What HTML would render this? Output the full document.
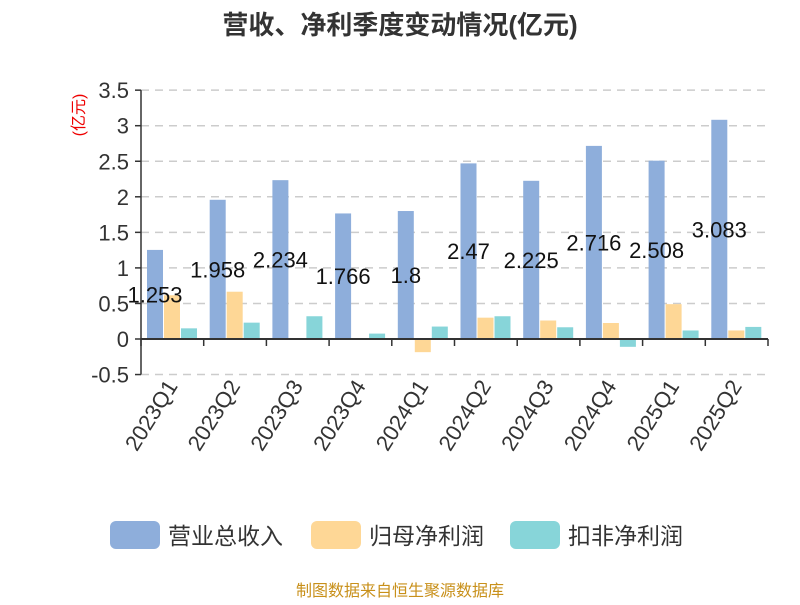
<!DOCTYPE html>
<html><head><meta charset="utf-8"><style>
body{margin:0;background:#fff;font-family:"Liberation Sans","Noto Sans CJK SC",sans-serif}
</style></head><body>
<svg id="c" width="800" height="600" xmlns="http://www.w3.org/2000/svg" font-family="Liberation Sans, Noto Sans CJK SC, sans-serif"></svg>
<script>
const categories=["2023Q1","2023Q2","2023Q3","2023Q4","2024Q1","2024Q2","2024Q3","2024Q4","2025Q1","2025Q2"];
const revenue=[1.253,1.958,2.234,1.766,1.8,2.47,2.225,2.716,2.508,3.083];
const netProfit=[0.615,0.665,0.005,0.003,-0.185,0.30,0.26,0.225,0.49,0.12];
const deductedProfit=[0.15,0.23,0.32,0.076,0.175,0.32,0.165,-0.11,0.12,0.17];
const yTicks=[-0.5,0,0.5,1,1.5,2,2.5,3,3.5];
const revenueLabels=["1.253","1.958","2.234","1.766","1.8","2.47","2.225","2.716","2.508","3.083"];
const svg=document.getElementById('c');const NS="http://www.w3.org/2000/svg";
function mk(t,a,p){const e=document.createElementNS(NS,t);for(const k in a)e.setAttribute(k,a[k]);(p||svg).appendChild(e);return e;}
const x0=141,x1=768,yZero=339,ppu=71.1;
const y=v=>yZero-v*ppu;const bw=(x1-x0)/categories.length;
let t=mk('text',{x:400,y:34,'text-anchor':'middle','font-size':26,'font-weight':'bold',fill:'#333'});t.textContent='营收、净利季度变动情况(亿元)';

t=mk('text',{transform:'translate(84,115) rotate(-90)','text-anchor':'middle','font-size':16,fill:'#e00'});t.textContent='(亿元)';

yTicks.forEach(v=>{
 if(v!==0){const l=mk('line',{x1:x0,x2:x1,y1:y(v),y2:y(v),stroke:'#ccc','stroke-dasharray':'8,6','stroke-width':1.5});}
 mk('line',{x1:x0-6,x2:x0,y1:y(v),y2:y(v),stroke:'#333','stroke-width':1.5});
 const tx=mk('text',{x:x0-12,y:y(v)+8,'text-anchor':'end','font-size':22,fill:'#333'});tx.textContent=v;
 
});
mk('line',{x1:x0,x2:x0,y1:y(3.5),y2:y(-0.5),stroke:'#333','stroke-width':1.5});
const series=[[revenue,'#8eaedb'],[netProfit,'#fed796'],[deductedProfit,'#87d5d9']];
categories.forEach((c,i)=>{
 const cx=x0+bw*i;
 series.forEach((s,j)=>{const v=s[0][i];const r=mk('rect',{x:cx+6+j*17,y:Math.min(y(v),yZero),width:16,height:Math.abs(y(v)-yZero),fill:s[1]});
  });
 const lb=mk('text',{x:cx+14,y:y(revenue[i]/2)+8,'text-anchor':'middle','font-size':22,fill:'#111'});lb.textContent=revenueLabels[i];
 
 const tl=mk('text',{transform:`translate(${cx+bw/2+6},386) rotate(-58)`,'text-anchor':'end','font-size':22,fill:'#333'});tl.textContent=c;
 
});
for(let i=0;i<=categories.length;i++)mk('line',{x1:x0+bw*i,x2:x0+bw*i,y1:yZero,y2:yZero+7,stroke:'#333','stroke-width':1.5});
mk('line',{x1:x0,x2:x1,y1:yZero,y2:yZero,stroke:'#333','stroke-width':2});
const legend=[['营业总收入','#8eaedb',110],['归母净利润','#fed796',311],['扣非净利润','#87d5d9',510]];
legend.forEach(l=>{const g=mk('g',{});
 mk('rect',{x:l[2],y:521,width:50,height:28,rx:6,fill:l[1]},g);
 const tx=mk('text',{x:l[2]+58,y:544,'font-size':23,fill:'#333'},g);tx.textContent=l[0];});
t=mk('text',{x:400,y:596,'text-anchor':'middle','font-size':16,fill:'#c8901a'});t.textContent='制图数据来自恒生聚源数据库';

</script>
</body></html>
